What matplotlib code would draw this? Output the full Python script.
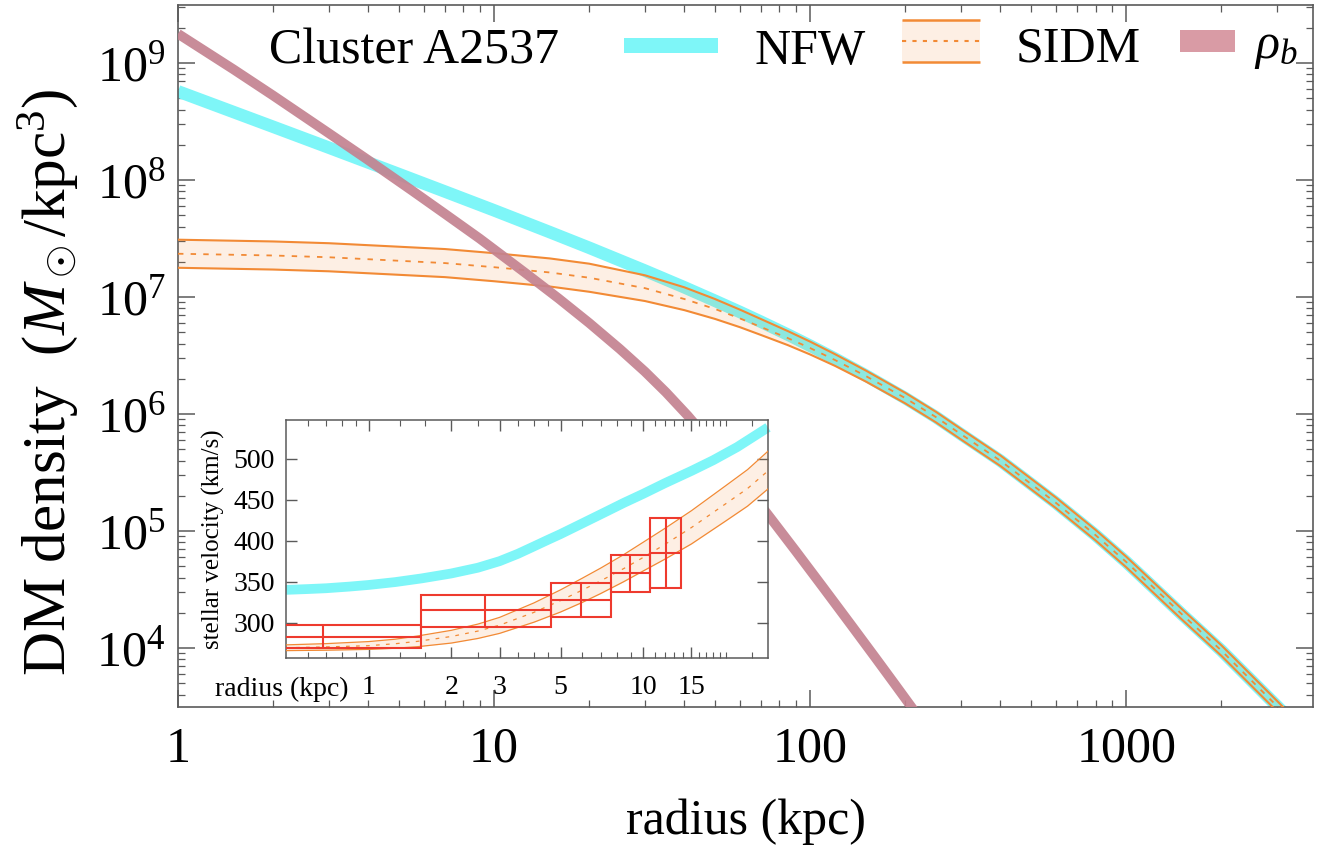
import numpy as np
import matplotlib
matplotlib.use('Agg')
import matplotlib.pyplot as plt
from matplotlib.patches import Rectangle
from matplotlib.ticker import LogLocator, NullFormatter, FixedLocator, LogFormatterMathtext

# ---------------- data ----------------
# main panel: DM density (log10 of M_sun/kpc^3) versus radius (kpc)
r_nfw = [1, 2, 3, 5, 7, 10, 15, 20, 30, 40, 50, 60, 70, 85, 100, 120, 150, 200,
         250, 300, 400, 600, 800, 1000, 1500, 2000, 3000, 4000]
logrho_nfw = [8.758, 8.455, 8.277, 8.051, 7.901, 7.741, 7.555, 7.421, 7.226,
              7.083, 6.968, 6.872, 6.788, 6.679, 6.584, 6.473, 6.330, 6.136,
              5.974, 5.828, 5.601, 5.240, 4.965, 4.736, 4.289, 3.979, 3.504,
              3.159]

r_sidm = [1, 2, 3, 5, 7, 10, 15, 20, 30, 40, 50, 60, 70, 85, 100, 120, 150, 200,
          250, 300, 400, 600, 800, 1000, 1500, 2000, 3000, 4000]
logrho_sidm_mid = [7.37, 7.355, 7.34, 7.31, 7.29, 7.255, 7.21, 7.165, 7.076,
                   6.983, 6.898, 6.817, 6.743, 6.649, 6.564, 6.461, 6.325,
                   6.136, 5.974, 5.828, 5.601, 5.240, 4.965, 4.736, 4.289,
                   3.979, 3.504, 3.159]
logrho_sidm_hi = [7.49, 7.475, 7.46, 7.43, 7.41, 7.375, 7.33, 7.285, 7.186,
                  7.083, 6.983, 6.892, 6.811, 6.709, 6.619, 6.511, 6.372, 6.181,
                  6.019, 5.873, 5.646, 5.285, 5.010, 4.781, 4.334, 4.024, 3.549,
                  3.204]
logrho_sidm_lo = [7.25, 7.235, 7.22, 7.19, 7.17, 7.135, 7.09, 7.045, 6.966,
                  6.888, 6.813, 6.742, 6.675, 6.589, 6.509, 6.411, 6.278, 6.091,
                  5.929, 5.783, 5.556, 5.195, 4.920, 4.691, 4.244, 3.934, 3.459,
                  3.114]

r_bar = [1, 1.5, 2, 3, 4, 5.5, 7, 9, 12.5, 16, 20, 25, 30, 35, 41, 48, 55, 64,
         75, 90, 110, 135, 160, 185, 210, 240, 270]
logrho_bar = [9.25, 8.945, 8.722, 8.400, 8.170, 7.910, 7.710, 7.500, 7.210,
              6.988, 6.778, 6.556, 6.363, 6.185, 5.986, 5.770, 5.575, 5.351,
              5.110, 4.830, 4.517, 4.195, 3.926, 3.694, 3.490, 3.274, 3.083]

x_ticks = [1, 10, 100, 1000]
x_tick_labels = ['1', '10', '100', '1000']
y_ticks = [1e4, 1e5, 1e6, 1e7, 1e8, 1e9]

# inset: stellar velocity (km/s) versus radius (kpc)
r_in_nfw = [0.5, 0.6, 0.7, 0.85, 1, 1.25, 1.56, 2, 2.5, 3, 3.5, 4, 4.5, 5, 6,
            7.4, 8.5, 10, 12, 15, 18, 22, 28.5]
v_in_nfw = [340, 341, 342, 344, 346, 349.5, 354, 360, 367, 375, 384, 393, 401,
            408, 421, 436, 446, 457, 470, 485, 498, 514, 538]

r_in_sidm = [0.5, 0.7, 1, 1.25, 1.5, 2, 2.5, 3, 4, 5, 6, 7, 8.5, 10, 12, 15, 20,
             24, 28.5]
v_in_sidm_mid = [269.5, 270.5, 272, 274.4, 277.2, 283.2, 289.8, 297, 312.6, 327,
                 339.7, 351, 366, 379.5, 395.4, 416, 445, 463.5, 485]
v_in_sidm_hi = [273, 274.5, 277, 279.9, 283.7, 290.7, 298.3, 306.5, 324.1, 340,
                354.2, 366.5, 383, 398, 414.9, 436.5, 467, 486.5, 509]
v_in_sidm_lo = [266, 266.5, 267.5, 268.9, 270.7, 275.2, 280.8, 287, 300.6, 313,
                324.7, 335.5, 350, 363, 377.4, 396, 424, 442, 463]

bin_r_lo = [0.3, 1.55, 4.6, 7.65, 10.6]
bin_r_mid = [0.684, 2.66, 5.93, 8.97, 12.1]
bin_r_hi = [1.55, 4.6, 7.65, 10.6, 13.7]
bin_v_lo = [269, 295, 307, 338, 342]
bin_v_mid = [282, 315, 328, 360, 385]
bin_v_hi = [297, 334, 348, 382, 427]

in_x_ticks = [1, 2, 3, 5, 10, 15]
in_x_tick_labels = ['1', '2', '3', '5', '10', '15']
in_x_minor = [0.6, 0.7, 0.8, 0.9, 1.3, 1.6, 2.5, 3.5, 4, 4.5, 6, 7, 8, 9,
              11, 12, 13, 14, 16, 17, 18, 19, 20, 25]
in_y_ticks = [300, 350, 400, 450, 500]

# ---------------- style ----------------
plt.rcParams['font.family'] = ['Liberation Serif', 'DejaVu Serif']
plt.rcParams['mathtext.fontset'] = 'custom'
plt.rcParams['mathtext.rm'] = 'Liberation Serif'
plt.rcParams['mathtext.it'] = 'Liberation Serif:italic'
plt.rcParams['mathtext.bf'] = 'Liberation Serif:bold'

CYAN = '#7EF6F8'
ORANGE = '#F28A35'
ROSE = '#C48290'
ROSE_LIGHT = '#D99BA5'
RED = '#EE3A2E'
FRAME = '#5A5A5A'

W, H = 1324, 857
fig = plt.figure(figsize=(W / 100, H / 100), dpi=100)

# main axes: x 178..1313 px, y 5..707 px
ax = fig.add_axes([178 / W, 1 - 707 / H, 1135 / W, 702 / H])
ax.set_xscale('log')
ax.set_yscale('log')

ax.plot(r_nfw, 10 ** np.array(logrho_nfw), color=CYAN, lw=9,
        solid_capstyle='butt', solid_joinstyle='round', zorder=2)

hi = 10 ** np.array(logrho_sidm_hi)
lo = 10 ** np.array(logrho_sidm_lo)
mid = 10 ** np.array(logrho_sidm_mid)
ax.fill_between(r_sidm, lo, hi, color=ORANGE, alpha=0.13, lw=0, zorder=3)
ax.plot(r_sidm, hi, color=ORANGE, lw=1.5, zorder=4)
ax.plot(r_sidm, lo, color=ORANGE, lw=1.5, zorder=4)
ax.plot(r_sidm, mid, color=ORANGE, lw=1.3, ls=(0, (3, 4)), zorder=4)

ax.plot(r_bar, 10 ** np.array(logrho_bar), color=ROSE, lw=7, alpha=0.92,
        solid_capstyle='butt', solid_joinstyle='round', zorder=5)

ax.set_xlim(1, 3900)
ax.set_ylim(10 ** 3.496, 10 ** 9.496)

ax.set_xticks(x_ticks, labels=x_tick_labels)
ax.xaxis.set_minor_locator(LogLocator(base=10, subs=np.arange(2, 10)))
ax.xaxis.set_minor_formatter(NullFormatter())
ax.yaxis.set_major_locator(FixedLocator(y_ticks))
ax.yaxis.set_major_formatter(LogFormatterMathtext())
ax.yaxis.set_minor_locator(LogLocator(base=10, subs=np.arange(2, 10)))
ax.yaxis.set_minor_formatter(NullFormatter())

ax.tick_params(which='both', direction='in', top=True, right=True, color=FRAME)
ax.tick_params(which='major', length=12, width=1.1, labelsize=36)
ax.tick_params(which='minor', length=5, width=0.9)
ax.tick_params(axis='x', which='major', pad=14)
ax.tick_params(axis='y', which='major', pad=9)
for s in ax.spines.values():
    s.set_color(FRAME)
    s.set_linewidth(1.2)

ax.set_xlabel('radius (kpc)', fontsize=36)
ax.xaxis.label.set_va('center')
ax.xaxis.set_label_coords(0.5, (707 - 822) / 702)
ax.set_ylabel(r'DM density  $(M_\odot/\mathrm{kpc}^3)$', fontsize=44)
ax.yaxis.label.set_va('center')
ax.yaxis.set_label_coords((48 - 178) / 1135, 0.463)

# legend row drawn in axes fraction
def fx(px):
    return (px - 178) / 1135

def fy(py):
    return (707 - py) / 702

ax.text(fx(414), fy(64), 'Cluster A2537', fontsize=36, ha='center',
        va='baseline', transform=ax.transAxes, zorder=20)
ax.add_patch(Rectangle((fx(624), fy(53)), fx(718) - fx(624), fy(38) - fy(53),
                       transform=ax.transAxes, color=CYAN, lw=0, zorder=20))
ax.text(fx(755), fy(64), 'NFW', fontsize=36, ha='left', va='baseline',
        transform=ax.transAxes, zorder=20)
ax.add_patch(Rectangle((fx(902), fy(62)), fx(980) - fx(902), fy(20) - fy(62),
                       transform=ax.transAxes, color=ORANGE, alpha=0.13, lw=0,
                       zorder=20))
for yy in (20, 62):
    ax.plot([fx(902), fx(980)], [fy(yy), fy(yy)], color=ORANGE, lw=1.8,
            transform=ax.transAxes, zorder=21, solid_capstyle='butt')
ax.plot([fx(902), fx(980)], [fy(41), fy(41)], color=ORANGE, lw=1.5,
        ls=(0, (2, 3)), transform=ax.transAxes, zorder=21)
ax.text(fx(1016), fy(62), 'SIDM', fontsize=36, ha='left', va='baseline',
        transform=ax.transAxes, zorder=20)
ax.add_patch(Rectangle((fx(1180), fy(52)), fx(1235) - fx(1180), fy(30) - fy(52),
                       transform=ax.transAxes, color=ROSE_LIGHT, lw=0, zorder=20))
ax.text(fx(1254), fy(58), r'$\rho_b$', fontsize=36, ha='left', va='baseline',
        transform=ax.transAxes, zorder=20)

# ---------------- inset ----------------
axin = fig.add_axes([286 / W, 1 - 658 / H, 482 / W, 238 / H], zorder=10)
axin.set_facecolor('white')
axin.set_xscale('log')

axin.plot(r_in_nfw, v_in_nfw, color=CYAN, lw=7, solid_capstyle='butt',
          solid_joinstyle='round', clip_on=False, zorder=2)
axin.fill_between(r_in_sidm, v_in_sidm_lo, v_in_sidm_hi, color=ORANGE,
                  alpha=0.13, lw=0, zorder=3)
axin.plot(r_in_sidm, v_in_sidm_hi, color=ORANGE, lw=0.9, zorder=4)
axin.plot(r_in_sidm, v_in_sidm_lo, color=ORANGE, lw=0.9, zorder=4)
axin.plot(r_in_sidm, v_in_sidm_mid, color=ORANGE, lw=0.9, ls=(0, (3, 5)),
          zorder=4)

for xl, xh, vl, vh in zip(bin_r_lo, bin_r_hi, bin_v_lo, bin_v_hi):
    axin.add_patch(Rectangle((xl, vl), xh - xl, vh - vl, fill=False,
                             ec=RED, lw=1.5, zorder=5))
axin.hlines(bin_v_mid, bin_r_lo, bin_r_hi, color=RED, lw=1.5, zorder=5)
axin.vlines(bin_r_mid, bin_v_lo, bin_v_hi, color=RED, lw=1.5, zorder=5)

axin.set_xlim(0.5, 28.5)
axin.set_ylim(257, 547)
axin.set_xticks(in_x_ticks, labels=in_x_tick_labels)
axin.xaxis.set_minor_locator(FixedLocator(in_x_minor))
axin.xaxis.set_minor_formatter(NullFormatter())
axin.set_yticks(in_y_ticks)
axin.tick_params(which='both', direction='in', top=True, right=True, color=FRAME)
axin.tick_params(which='major', length=8, width=1.0, labelsize=20)
axin.tick_params(which='minor', length=4, width=0.8)
axin.tick_params(axis='x', which='major', pad=12)
axin.tick_params(axis='y', which='major', pad=8)
for s in axin.spines.values():
    s.set_color(FRAME)
    s.set_linewidth(1.1)

axin.text((215 - 286) / 482, (658 - 696) / 238, 'radius (kpc)', fontsize=20,
          ha='left', va='baseline', transform=axin.transAxes)
axin.text((213 - 286) / 482, 0.5, 'stellar velocity (km/s)', fontsize=18,
          rotation=90, ha='center', va='center', transform=axin.transAxes)

fig.savefig('out.png', dpi=100)
